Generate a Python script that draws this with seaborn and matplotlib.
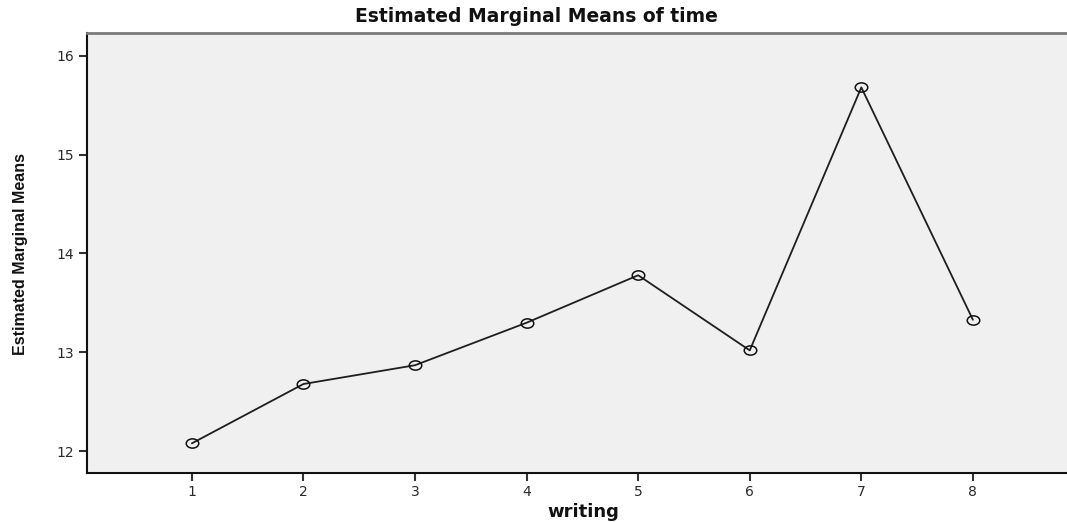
import matplotlib
matplotlib.use("Agg")
import matplotlib.pyplot as plt
from matplotlib import font_manager
from matplotlib.path import Path
from matplotlib.transforms import Affine2D
import seaborn as sns
import pandas as pd

# data
writing = [1, 2, 3, 4, 5, 6, 7, 8]
means = [12.08, 12.68, 12.87, 13.30, 13.78, 13.02, 15.68, 13.33]
y_ticks = [12, 13, 14, 15, 16]

df = pd.DataFrame({"writing": writing, "mean": means})

sns.set_style("white")
plt.rcParams['font.family'] = ['DejaVu Sans']

available = {f.name for f in font_manager.fontManager.ttflist}
narrow = 'Liberation Sans Narrow' if 'Liberation Sans Narrow' in available else 'Liberation Sans'

# SPSS-looking markers are slightly flattened circles
ellipse = Path.unit_circle().transformed(Affine2D().scale(1.35, 1.0))

fig = plt.figure(figsize=(10.67, 5.22), dpi=100)
ax = fig.add_axes([87 / 1067, 49 / 522, 993 / 1067, 440 / 522])
ax.set_facecolor('#f0f0f0')

sns.lineplot(data=df, x="writing", y="mean", ax=ax, color='#1e1e1e', linewidth=1.3,
             marker=ellipse, markersize=9, markerfacecolor='none',
             markeredgecolor='#111111', markeredgewidth=1.1)

ax.set_xlim(0.06, 8.96)
ax.set_ylim(11.78, 16.23)
ax.set_xticks(writing)
ax.set_yticks(y_ticks)
ax.tick_params(axis='both', direction='out', length=6, width=1.5, color='#333333',
               labelsize=10, labelcolor='#2a2a2a', pad=3)
ax.tick_params(axis='x', bottom=True)
ax.tick_params(axis='y', left=True)

for side in ['left', 'bottom']:
    ax.spines[side].set_color('#111111')
    ax.spines[side].set_linewidth(1.5)
ax.spines['top'].set_color('#7a7a7a')
ax.spines['top'].set_linewidth(2)
ax.spines['right'].set_visible(False)

ax.set_xlabel('')
ax.set_ylabel('')
fig.text(536 / 1067, 1 - 17 / 522, 'Estimated Marginal Means of time', ha='center', va='center',
         fontsize=13.5, fontweight='bold', color='#111111')
fig.text(583 / 1067, 1 - 512 / 522, 'writing', ha='center', va='center',
         fontsize=13, fontweight='bold', color='#111111')
fig.text(21 / 1067, 1 - 254 / 522, 'Estimated Marginal Means', ha='center', va='center',
         rotation=90, fontsize=11.5, fontweight='bold', family=narrow, color='#111111')

fig.savefig('out.png', dpi=100)
